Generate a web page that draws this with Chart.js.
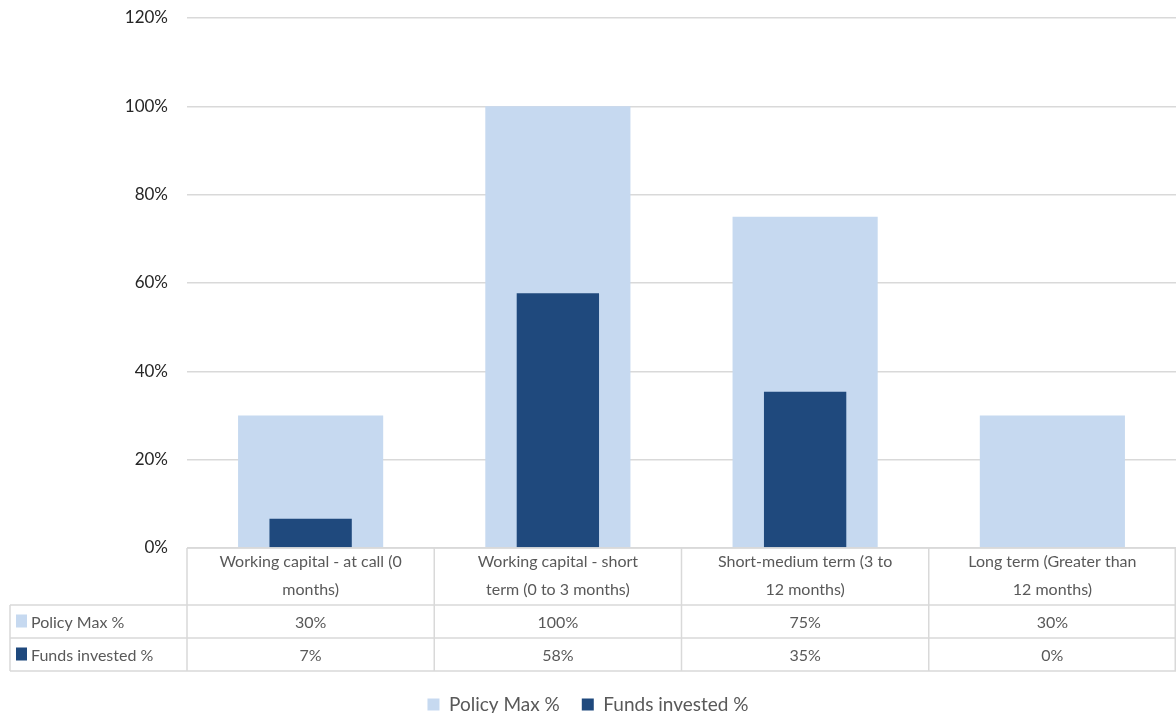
<!DOCTYPE html>
<html>
<head>
<meta charset="utf-8">
<script src="https://cdn.jsdelivr.net/npm/chart.js@4/dist/chart.umd.min.js"></script>
<style>
  html, body { margin: 0; padding: 0; background: #fff; }
  #wrap { width: 1176px; height: 713px; }
</style>
</head>
<body>
<div id="wrap"><canvas id="chart"></canvas></div>
<script>
// chart data
const categories = [
    ['Working capital - at call (0', 'months)'],
    ['Working capital - short', 'term (0 to 3 months)'],
    ['Short-medium term (3 to', '12 months)'],
    ['Long term (Greater than', '12 months)']
];
const seriesNames = ['Policy Max %', 'Funds invested %'];
const policyMax = [0.30, 1.00, 0.75, 0.30];
const fundsInvested = [0.066, 0.577, 0.354, 0];
const yTicks = [0, 0.2, 0.4, 0.6, 0.8, 1.0, 1.2];

const LIGHT = '#c6d9f0';
const DARK = '#1f497d';
const GRID = '#d9d9d9';
const TEXT = '#595959';
const FONT = 'Lato, "Liberation Sans", sans-serif';

const pct = v => Math.round(v * 100) + '%';

// draws the Excel-style data table under the plot area
const dataTable = {
    id: 'dataTable',
    afterDraw(chart) {
        const ctx = chart.ctx;
        const x = chart.scales.x;
        const top = chart.chartArea.bottom;
        const catH = 57, rowH = 33, tableLeft = 10;
        const colW = (x.right - x.left) / categories.length;
        const rows = [policyMax, fundsInvested];
        const bottom = top + catH + rowH * rows.length;

        ctx.save();
        ctx.strokeStyle = GRID;
        ctx.lineWidth = 1.5;
        ctx.beginPath();
        ctx.moveTo(x.left, top); ctx.lineTo(x.right, top);
        for (let r = 0; r <= rows.length; r++) {
            const yy = top + catH + r * rowH;
            ctx.moveTo(tableLeft, yy); ctx.lineTo(x.right, yy);
        }
        ctx.moveTo(tableLeft, top + catH); ctx.lineTo(tableLeft, bottom);
        for (let i = 0; i <= categories.length; i++) {
            const xx = Math.min(x.left + i * colW, x.right - 0.75);
            ctx.moveTo(xx, top); ctx.lineTo(xx, bottom);
        }
        ctx.stroke();

        ctx.font = '16px ' + FONT;
        ctx.fillStyle = TEXT;
        ctx.textAlign = 'center';
        ctx.textBaseline = 'middle';
        categories.forEach((lines, i) => {
            const cx = x.getPixelForValue(i);
            lines.forEach((line, j) => ctx.fillText(line, cx, top + 14 + j * 28));
            rows.forEach((vals, r) => ctx.fillText(pct(vals[i]), cx, top + catH + r * rowH + rowH / 2 + 1));
        });

        // row headers with legend keys
        ctx.textAlign = 'left';
        [LIGHT, DARK].forEach((c, r) => {
            const cy = top + catH + r * rowH + rowH / 2;
            ctx.fillStyle = c;
            ctx.fillRect(16, cy - 7, 11, 13);
            ctx.fillStyle = TEXT;
            ctx.fillText(seriesNames[r], 31, cy + 1);
        });
        ctx.restore();
    }
};

new Chart(document.getElementById('chart'), {
    type: 'bar',
    data: {
        labels: categories.map(c => c.join(' ')),
        datasets: [
            {
                label: seriesNames[0],
                data: policyMax,
                backgroundColor: LIGHT,
                borderWidth: 0,
                grouped: false,
                categoryPercentage: 1,
                barPercentage: 0.587,
                order: 1
            },
            {
                label: seriesNames[1],
                data: fundsInvested,
                backgroundColor: DARK,
                borderWidth: 0,
                grouped: false,
                categoryPercentage: 1,
                barPercentage: 0.333,
                order: 0
            }
        ]
    },
    options: {
        responsive: true,
        maintainAspectRatio: false,
        animation: false,
        layout: { padding: { top: 18, right: 0, left: 0, bottom: -11 } },
        scales: {
            x: {
                ticks: { display: false },
                grid: { display: false },
                border: { display: false },
                afterFit: s => { s.height = 125; }
            },
            y: {
                min: 0,
                max: 1.2,
                afterBuildTicks: s => { s.ticks = yTicks.map(v => ({ value: v })); },
                ticks: {
                    callback: v => pct(v),
                    color: '#262626',
                    padding: 19,
                    font: { family: FONT, size: 17 }
                },
                grid: { color: GRID, lineWidth: 1.5, drawTicks: false },
                border: { display: false },
                afterFit: s => { s.width = 187; s.paddingTop = 0; s.paddingBottom = 0; }
            }
        },
        plugins: {
            legend: {
                position: 'bottom',
                labels: {
                    boxWidth: 12,
                    boxHeight: 12,
                    padding: 22,
                    color: TEXT,
                    font: { family: FONT, size: 19 },
                    sort: (a, b) => a.datasetIndex - b.datasetIndex
                }
            },
            tooltip: { enabled: false }
        }
    },
    plugins: [dataTable]
});
</script>
</body>
</html>
